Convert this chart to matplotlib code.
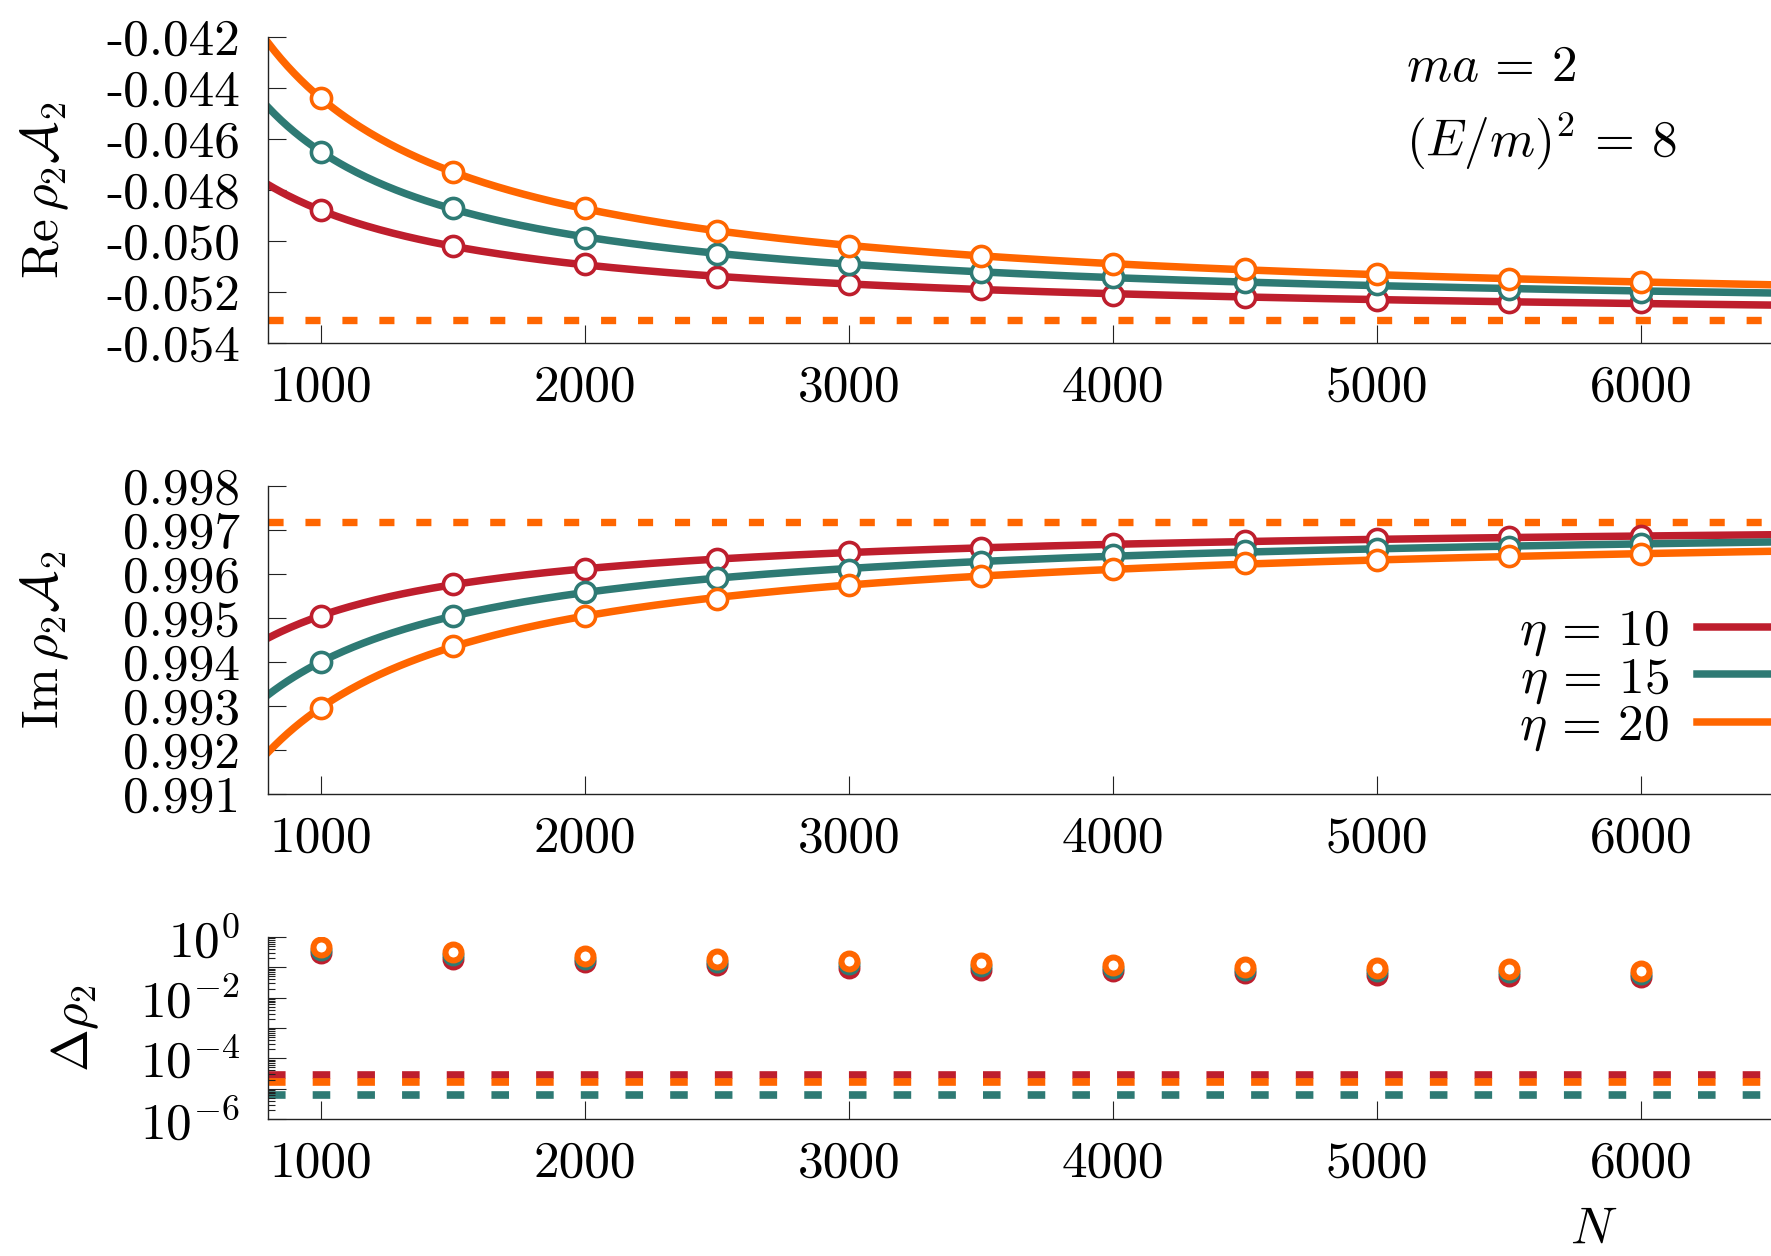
"""
Finite-volume scan of rho_2 A_2 and its error against N, three eta values.
"""

import numpy as np
import matplotlib
matplotlib.use("Agg")
import matplotlib.pyplot as plt
from matplotlib.ticker import FixedLocator, FuncFormatter, LogLocator, NullFormatter

plt.rcParams["font.family"] = "serif"
plt.rcParams["font.serif"] = ["cmr10"]
plt.rcParams["mathtext.fontset"] = "cm"
plt.rcParams["axes.unicode_minus"] = False
plt.rcParams["axes.formatter.use_mathtext"] = True

# lattice sizes
N = [1000, 1500, 2000, 2500, 3000, 3500, 4000, 4500, 5000, 5500, 6000]

etas = ["10", "15", "20"]
colors = ["#BE1E2D", "#2E7A74", "#FF6600"]

# Re rho_2 A_2
re_eta10 = [-0.0488, -0.0502, -0.0509, -0.0514, -0.0517, -0.0519, -0.0521, -0.0522, -0.0523, -0.0524, -0.0524]
re_eta15 = [-0.0465, -0.0487, -0.0499, -0.0505, -0.0509, -0.0512, -0.0514, -0.0516, -0.0517, -0.0519, -0.0520]
re_eta20 = [-0.0444, -0.0473, -0.0487, -0.0496, -0.0502, -0.0506, -0.0509, -0.0511, -0.0513, -0.0515, -0.0516]
re_exact = -0.0531

# Im rho_2 A_2
im_eta10 = [0.99505, 0.99577, 0.99611, 0.99633, 0.99649, 0.99659, 0.99668, 0.99674, 0.99679, 0.99683, 0.99686]
im_eta15 = [0.99400, 0.99505, 0.99558, 0.99590, 0.99610, 0.99628, 0.99643, 0.99652, 0.99657, 0.99662, 0.99668]
im_eta20 = [0.99296, 0.99436, 0.99505, 0.99544, 0.99574, 0.99595, 0.99612, 0.99624, 0.99631, 0.99640, 0.99646]
im_exact = 0.99718

# Delta rho_2
d_eta10 = [0.29, 0.195, 0.145, 0.115, 0.097, 0.082, 0.073, 0.064, 0.058, 0.052, 0.048]
d_eta15 = [0.37, 0.25, 0.19, 0.15, 0.125, 0.107, 0.095, 0.084, 0.075, 0.068, 0.062]
d_eta20 = [0.47, 0.32, 0.24, 0.19, 0.16, 0.135, 0.12, 0.105, 0.095, 0.085, 0.078]
d_limit = [2.9e-5, 6.3e-6, 1.6e-5]

x_ticks = [1000, 2000, 3000, 4000, 5000, 6000]
re_ticks = [-0.054, -0.052, -0.050, -0.048, -0.046, -0.044, -0.042]
im_ticks = [0.991, 0.992, 0.993, 0.994, 0.995, 0.996, 0.997, 0.998]

FS = 37
W, H = 1771, 1256


def fit_curve(n, vals, grid):
    # quadratic fit in 1/N
    coef = np.polyfit(1.0 / np.asarray(n, float), vals, 2)
    return np.polyval(coef, 1.0 / grid)


def style_axis(ax):
    for s in ("top", "right"):
        ax.spines[s].set_visible(False)
    for s in ("left", "bottom"):
        ax.spines[s].set_linewidth(1.0)
        ax.spines[s].set_color("#222222")
    ax.set_xlim(800, 7000)
    ax.xaxis.set_major_locator(FixedLocator(x_ticks))
    ax.xaxis.set_major_formatter(FuncFormatter(lambda v, p: f"{v:.0f}"))
    ax.tick_params(which="major", direction="in", length=13, width=0.8,
                   labelsize=FS, color="#222222")
    ax.tick_params(axis="x", pad=16)
    ax.tick_params(axis="y", pad=20)


fig = plt.figure(figsize=(W / 100, H / 100), dpi=100)

left = 268 / W
width = (1905 - 268) / W
ax1 = fig.add_axes([left, 1 - 343 / H, width, (343 - 37) / H])
ax2 = fig.add_axes([left, 1 - 794 / H, width, (794 - 486) / H])
ax3 = fig.add_axes([left, 1 - 1119 / H, width, (1119 - 937) / H])

grid = np.linspace(800, 7000, 500)

# top: real part
ax1.axhline(re_exact, color=colors[2], lw=5.3, dashes=(2.05, 2.97),
            dash_capstyle="butt", zorder=1)
for vals, c in zip([re_eta10, re_eta15, re_eta20], colors):
    ax1.plot(grid, fit_curve(N, vals, grid), color=c, lw=5.4, zorder=2)
    ax1.plot(N, vals, "o", ms=14.5, mfc="white", mec=c, mew=2.6, zorder=3)
ax1.set_ylim(-0.054, -0.042)
ax1.yaxis.set_major_locator(FixedLocator(re_ticks))
ax1.yaxis.set_major_formatter(FuncFormatter(lambda v, p: f"{v:.3f}"))
ax1.set_ylabel(r"$\mathrm{Re}\,\rho_2\mathcal{A}_2$", fontsize=FS, ha="center", va="center")
ax1.yaxis.set_label_coords(-0.1364, 0.5)
ax1.text(0.695, 0.898, r"$ma\,=\,2$", transform=ax1.transAxes, fontsize=FS,
         ha="left", va="center")
ax1.text(0.695, 0.662, r"$(E/m)^2\,=\,8$", transform=ax1.transAxes, fontsize=FS,
         ha="left", va="center")
style_axis(ax1)

# middle: imaginary part
ax2.axhline(im_exact, color=colors[2], lw=5.3, dashes=(2.05, 2.97),
            dash_capstyle="butt", zorder=1)
handles = []
for vals, c, eta in zip([im_eta10, im_eta15, im_eta20], colors, etas):
    ln, = ax2.plot(grid, fit_curve(N, vals, grid), color=c, lw=5.4, zorder=2,
                   label=rf"$\eta\,=\,{eta}$")
    ax2.plot(N, vals, "o", ms=14.5, mfc="white", mec=c, mew=2.6, zorder=3)
    handles.append(ln)
ax2.set_ylim(0.991, 0.998)
ax2.yaxis.set_major_locator(FixedLocator(im_ticks))
ax2.yaxis.set_major_formatter(FuncFormatter(lambda v, p: f"{v:.3f}"))
ax2.set_ylabel(r"$\mathrm{Im}\,\rho_2\mathcal{A}_2$", fontsize=FS, ha="center", va="center")
ax2.yaxis.set_label_coords(-0.1364, 0.5)
style_axis(ax2)
fig.legend(handles=handles, loc="center left", bbox_to_anchor=(1519 / W, 1 - 681 / H),
           frameon=False, fontsize=FS, markerfirst=False, borderpad=0,
           borderaxespad=0, handlelength=3, handletextpad=0.55, labelspacing=-0.04)

# bottom: error estimate
for lim, c in zip(d_limit, colors):
    ax3.axhline(lim, color=c, lw=5.5, dashes=(2.3, 3.55), dash_capstyle="butt", zorder=1)
for vals, c in zip([d_eta10, d_eta15, d_eta20], colors):
    ax3.plot(N, vals, "o", ms=11.5, mfc="white", mec=c, mew=4.3, zorder=3)
ax3.set_yscale("log")
ax3.set_ylim(1e-6, 1e0)
ax3.yaxis.set_major_locator(LogLocator(base=10, numticks=20))
ax3.yaxis.set_major_formatter(FuncFormatter(
    lambda v, p: rf"$10^{{{int(round(np.log10(v)))}}}$" if int(round(np.log10(v))) % 2 == 0 else ""))
ax3.yaxis.set_minor_locator(LogLocator(base=10, subs=np.arange(2, 10), numticks=20))
ax3.yaxis.set_minor_formatter(NullFormatter())
ax3.tick_params(which="minor", direction="in", length=5, width=0.8, color="#222222")
ax3.set_ylabel(r"$\Delta\rho_2$", fontsize=FS, ha="center", va="center")
ax3.yaxis.set_label_coords(-0.118, 0.5)
ax3.set_xlabel(r"$N$", fontsize=FS, ha="center", va="center")
ax3.xaxis.set_label_coords(0.81, -0.615)
style_axis(ax3)
ax3.set_ylim(1e-6, 1e0)

fig.savefig("out.png", dpi=100)
